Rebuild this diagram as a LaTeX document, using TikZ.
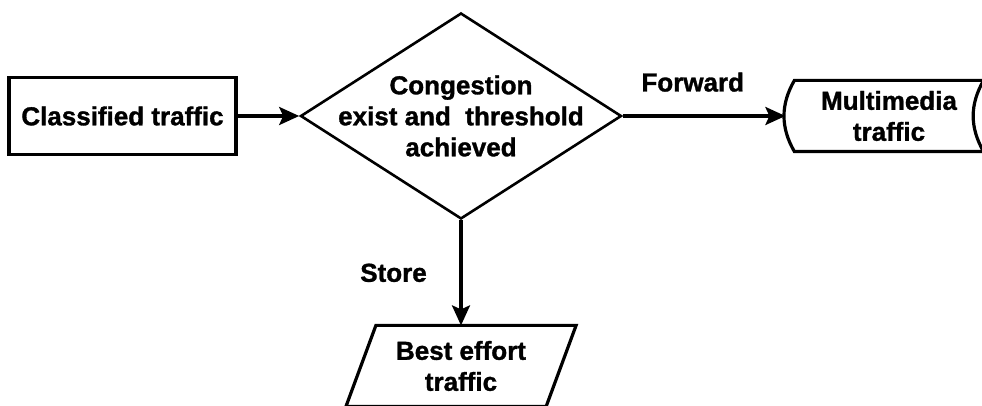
\documentclass[tikz,border=0pt]{standalone}
\usepackage{fontspec}
\setmainfont{Liberation Sans}[BoldFeatures={FakeBold=1.2}]
\usetikzlibrary{shapes.geometric,arrows.meta}

\begin{document}
\begin{tikzpicture}[x=0.5pt, y=-0.5pt, line width=1.6pt, >={Stealth[length=10pt,width=9pt,inset=2pt]},
  every node/.style={font=\fontsize{13}{15.5}\selectfont\bfseries, align=center}]
  \useasboundingbox (0,0) rectangle (982,406);
  \node[draw, rectangle, minimum width=113.5pt, minimum height=38.5pt] (cls) at (122.5,116) {Classified traffic};
  \node[draw, diamond, minimum width=160.5pt, minimum height=103pt, inner sep=0pt, line width=1.3pt,
        label={[align=center]center:Congestion\\exist and\ \ threshold\\achieved}] (dec) at (461,116) {};
  \node[minimum width=93pt, minimum height=34pt] (mm) at (889,116) {Multimedia\\traffic};
  \node[minimum width=98.5pt, minimum height=39pt] (be) at (461,366) {Best effort\\traffic};

  \draw (mm.north west) to[bend right=30] (mm.south west) -- (mm.south east)
    to[bend left=30] (mm.north east) -- cycle;
  \draw ([xshift=7.5pt]be.north west) -- ([xshift=7.5pt]be.north east)
    -- ([xshift=-7.5pt]be.south east) -- ([xshift=-7.5pt]be.south west) -- cycle;
  \coordinate (mmin) at ([xshift=-4.5pt]mm.west);

  \draw[->] (cls) -- (dec);
  \draw[->] (dec) -- node[pos=0.43, above=8pt]{Forward} (mmin);
  \draw[->] (dec) -- node[left=13pt]{Store} (be);
\end{tikzpicture}
\end{document}
